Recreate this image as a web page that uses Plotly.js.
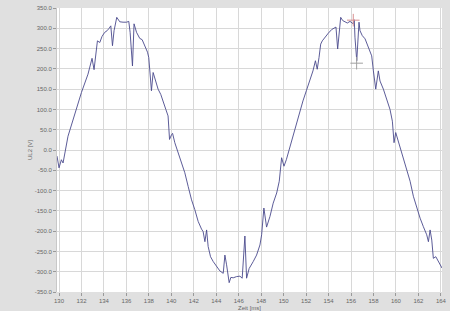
<!DOCTYPE html>
<html>
<head>
<meta charset="utf-8">
<script src="https://cdn.plot.ly/plotly-3.0.1.min.js"></script>
<style>html,body{margin:0;padding:0;background:#e0e0e0;}#chart{width:450px;height:311px;}</style>
</head>
<body>
<div id="chart"></div>
<script>
const timeMs = [129.82,130.0,130.21,130.36,130.8,131.4,132.0,132.58,132.8,132.94,133.12,133.39,133.42,133.63,133.83,134.07,134.28,134.46,134.61,134.76,134.9,135.14,135.41,135.7,136.01,136.21,136.33,136.54,136.68,136.9,137.19,137.4,137.64,137.88,137.99,138.08,138.23,138.38,138.59,138.82,139.06,139.27,139.51,139.71,139.84,140.02,140.11,140.31,140.61,140.91,141.2,141.5,141.8,142.09,142.39,142.69,142.83,142.99,143.14,143.28,143.49,143.73,144.03,144.32,144.62,144.77,144.92,145.15,145.3,145.51,145.81,146.11,146.31,146.55,146.7,146.93,147.29,147.59,147.89,148.04,148.24,148.48,148.78,149.07,149.38,149.61,149.82,150.03,150.24,150.53,150.83,151.13,151.43,151.72,152.02,152.32,152.61,152.83,152.99,153.15,153.3,153.44,153.68,153.98,154.28,154.51,154.66,154.81,154.93,155.08,155.26,155.46,155.67,155.91,156.06,156.2,156.29,156.35,156.51,156.65,156.71,156.8,157.0,157.25,157.49,157.69,157.84,157.99,158.2,158.43,158.58,158.88,159.18,159.47,159.68,159.83,159.98,160.12,160.37,160.66,160.96,161.26,161.55,161.85,162.15,162.44,162.74,162.89,163.04,163.19,163.33,163.55,163.78,164.02,164.1];
const voltageUL2 = [-15,-44,-24,-32,34,88,142,187,216,226,198,253,269,265,280,290,294,300,306,257,294,327,316,315,315,317,290,207,311,290,275,272,257,241,228,195,146,191,170,150,137,117,100,84,26,38,41,18,-7,-32,-56,-90,-123,-147,-176,-195,-201,-226,-197,-238,-263,-275,-288,-298,-304,-259,-283,-327,-314,-315,-312,-311,-316,-212,-316,-292,-275,-259,-234,-209,-143,-190,-164,-131,-106,-77,-19,-40,-24,5,34,63,92,121,146,170,195,220,199,228,261,269,278,288,297,300,303,249,294,327,319,316,313,317,313,311,321,278,220,274,315,294,282,274,257,245,232,195,150,195,170,150,125,100,71,18,43,30,1,-24,-48,-77,-114,-143,-168,-189,-209,-226,-197,-222,-267,-263,-275,-288,-291];
const cursorT = [156.2, 156.5];
const cursorV = [320, 214];
const cursorColors = ['#d89090', '#a0a0a0'];
const xTicks = [130,132,134,136,138,140,142,144,146,148,150,152,154,156,158,160,162,164];
const yTicks = [350,300,250,200,150,100,50,0,-50,-100,-150,-200,-250,-300,-350];

const traces = [
  {x: timeMs, y: voltageUL2, type: 'scatter', mode: 'lines',
   line: {color: '#4a4a8c', width: 0.9}, hoverinfo: 'none'},
  {x: cursorT, y: cursorV, type: 'scatter', mode: 'markers',
   marker: {symbol: 'cross-thin', size: 9, color: cursorColors, line: {color: cursorColors, width: 1}}, hoverinfo: 'none'}
];
const tickFont = {family: 'Liberation Sans, Arial, sans-serif', size: 6, color: '#666666'};
const layout = {
  width: 450, height: 311,
  margin: {l: 57, r: 8, t: 8, b: 19},
  paper_bgcolor: '#e0e0e0',
  plot_bgcolor: '#ffffff',
  showlegend: false,
  xaxis: {
    range: [129.82, 164.1],
    tickvals: xTicks, ticktext: xTicks.map(String),
    ticks: 'outside', ticklen: 3, tickcolor: '#999999',
    showgrid: true, gridcolor: '#d8d8d8', gridwidth: 1,
    zeroline: false, showline: false,
    tickfont: tickFont,
    title: {text: 'Zeit [ms]', font: tickFont, standoff: 3}
  },
  yaxis: {
    range: [-350, 350],
    tickvals: yTicks, ticktext: yTicks.map(v => v.toFixed(1)),
    ticks: 'outside', ticklen: 3, tickcolor: '#999999',
    showgrid: true, gridcolor: '#d8d8d8', gridwidth: 1,
    zeroline: false, showline: true, linecolor: '#c8c8c8',
    tickfont: tickFont,
    title: {text: 'UL2 [V]', font: tickFont, standoff: 1}
  }
};
Plotly.newPlot('chart', traces, layout, {staticPlot: true, displayModeBar: false});
</script>
</body>
</html>
